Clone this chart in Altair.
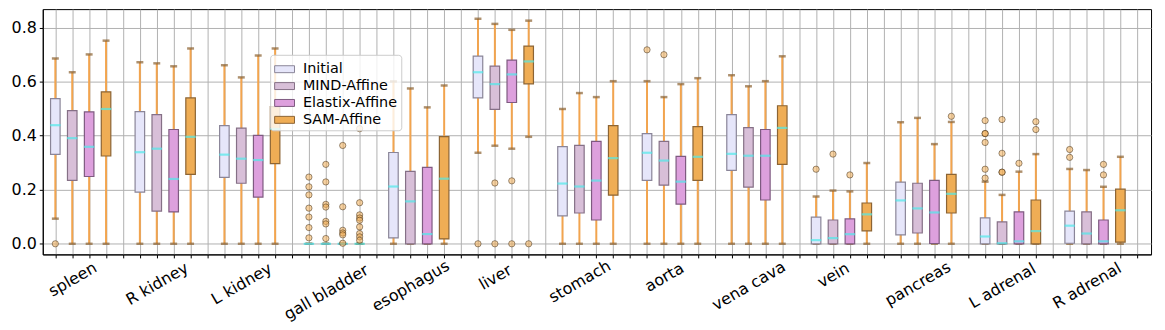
import altair as alt
import pandas as pd

groups = ["spleen", "R kidney", "L kidney", "gall bladder", "esophagus", "liver",
          "stomach", "aorta", "vena cava", "vein", "pancreas", "L adrenal", "R adrenal"]
methods = ["Initial", "MIND-Affine", "Elastix-Affine", "SAM-Affine"]
fills = ["#E6E6FA", "#D8BFD8", "#DDA0DD", "#EFAD55"]
edges = ["#8A8598", "#857086", "#7E5A80", "#8C6434"]

# whisker low, Q1, median, Q3, whisker high  (per organ)
initial_lo = [0.093, 0.0, 0.0, 0.0, 0.0, 0.337, 0.0, 0.0, 0.0, 0.0, 0.0, 0.0, 0.0]
initial_q1 = [0.331, 0.191, 0.246, 0.0, 0.022, 0.540, 0.103, 0.235, 0.272, 0.0, 0.033, 0.0, 0.002]
initial_med = [0.439, 0.339, 0.330, 0.0, 0.212, 0.635, 0.223, 0.337, 0.333, 0.0135, 0.1605, 0.027, 0.067]
initial_q3 = [0.537, 0.489, 0.4375, 0.0, 0.338, 0.695, 0.360, 0.408, 0.478, 0.099, 0.228, 0.0956, 0.121]
initial_hi = [0.686, 0.672, 0.661, 0.0, 0.601, 0.833, 0.499, 0.602, 0.624, 0.175, 0.450, 0.230, 0.277]

mind_lo = [0.0, 0.0, 0.0, 0.0, 0.0, 0.363, 0.0, 0.0, 0.0, 0.0, 0.0, 0.0, 0.0]
mind_q1 = [0.235, 0.121, 0.224, 0.0, 0.0, 0.4975, 0.114, 0.217, 0.2095, 0.0, 0.040, 0.0, 0.0]
mind_med = [0.391, 0.352, 0.315, 0.0, 0.157, 0.591, 0.212, 0.308, 0.326, 0.021, 0.131, 0.002, 0.038]
mind_q3 = [0.493, 0.478, 0.428, 0.0, 0.268, 0.658, 0.364, 0.379, 0.430, 0.088, 0.224, 0.081, 0.118]
mind_hi = [0.635, 0.668, 0.616, 0.0, 0.575, 0.814, 0.558, 0.543, 0.583, 0.197, 0.466, 0.181, 0.273]

elastix_lo = [0.0, 0.0, 0.0, 0.0, 0.0, 0.352, 0.0, 0.0, 0.0, 0.0, 0.0, 0.0, 0.0]
elastix_q1 = [0.249, 0.118, 0.173, 0.0, 0.0, 0.523, 0.088, 0.147, 0.162, 0.0, 0.001, 0.0, 0.0]
elastix_med = [0.359, 0.240, 0.310, 0.0, 0.036, 0.627, 0.234, 0.230, 0.326, 0.0355, 0.116, 0.009, 0.009]
elastix_q3 = [0.488, 0.423, 0.401, 0.0, 0.283, 0.680, 0.379, 0.3235, 0.423, 0.092, 0.235, 0.118, 0.088]
elastix_hi = [0.701, 0.657, 0.697, 0.0, 0.505, 0.792, 0.543, 0.591, 0.602, 0.194, 0.369, 0.267, 0.211]

sam_lo = [0.0, 0.0, 0.0, 0.0, 0.0, 0.396, 0.0, 0.0, 0.0, 0.0, 0.0, 0.0, 0.0]
sam_q1 = [0.325, 0.257, 0.297, 0.0, 0.018, 0.592, 0.180, 0.235, 0.294, 0.048, 0.114, 0.0, 0.006]
sam_med = [0.499, 0.396, 0.425, 0.0, 0.241, 0.675, 0.317, 0.322, 0.429, 0.109, 0.185, 0.047, 0.124]
sam_q3 = [0.5625, 0.540, 0.508, 0.0, 0.397, 0.732, 0.4375, 0.434, 0.511, 0.151, 0.257, 0.162, 0.202]
sam_hi = [0.752, 0.723, 0.723, 0.0, 0.586, 0.826, 0.602, 0.613, 0.694, 0.299, 0.451, 0.332, 0.322]

# outliers (fliers) per organ
initial_out = {"spleen": [0.0],
               "gall bladder": [0.247, 0.211, 0.181, 0.132, 0.099, 0.060, 0.022],
               "liver": [0.0], "aorta": [0.718], "vein": [0.276],
               "L adrenal": [0.456, 0.408, 0.408, 0.375, 0.276, 0.243],
               "R adrenal": [0.349, 0.320]}
mind_out = {"gall bladder": [0.294, 0.229, 0.146, 0.136, 0.083, 0.0735, 0.0195],
            "liver": [0.225, 0.0], "aorta": [0.700], "vein": [0.332],
            "L adrenal": [0.460, 0.335, 0.265, 0.265]}
elastix_out = {"gall bladder": [0.364, 0.137, 0.050, 0.040, 0.033, 0.002],
               "liver": [0.233, 0.0], "vein": [0.255], "L adrenal": [0.298],
               "R adrenal": [0.294, 0.255]}
sam_out = {"gall bladder": [0.426, 0.152, 0.107, 0.0955, 0.087, 0.0625, 0.038, 0.0257, 0.013],
           "liver": [0.0], "pancreas": [0.472], "L adrenal": [0.452, 0.423]}

stats = [
    (initial_lo, initial_q1, initial_med, initial_q3, initial_hi, initial_out),
    (mind_lo, mind_q1, mind_med, mind_q3, mind_hi, mind_out),
    (elastix_lo, elastix_q1, elastix_med, elastix_q3, elastix_hi, elastix_out),
    (sam_lo, sam_q1, sam_med, sam_q3, sam_hi, sam_out),
]

rows, fl = [], []
for mi, m in enumerate(methods):
    lo, q1, med, q3, hi, out = stats[mi]
    for gi, g in enumerate(groups):
        pos = 5 * gi + mi + 1
        rows.append(dict(method=m, pos=pos, lo=lo[gi], q1=q1[gi], med=med[gi],
                         q3=q3[gi], hi=hi[gi]))
        for v in out.get(g, []):
            fl.append(dict(method=m, pos=pos, v=v))
box_df = pd.DataFrame(rows)
fl_df = pd.DataFrame(fl)

# x axis labels at the second box of each group
label_expr = "''"
pad_expr = "0"
for gi, g in enumerate(groups[::-1]):
    idx = len(groups) - 1 - gi
    p = 5 * idx + 2
    label_expr = f"datum.value == {p} ? '{g}' : ({label_expr})"
    pad = round(8.5 + 8.6 * len(g) / 4, 1)
    pad_expr = f"datum.value == {p} ? {pad} : ({pad_expr})"

xscale = alt.Scale(domain=[0.55, 65.52], nice=False, zero=False)
yscale = alt.Scale(domain=[-0.0393, 0.8687], nice=False, zero=False)

xaxis = alt.Axis(values=list(range(1, 66)), tickCount=200, labelExpr=label_expr, labelAngle=-30,
                 labelAlign="center", labelBaseline="middle",
                 labelPadding=alt.ExprRef(expr=pad_expr), labelOverlap=False,
                 labelFlush=False, title=None, grid=True, tickSize=3.5)
yaxis = alt.Axis(values=[0, 0.2, 0.4, 0.6, 0.8], format=".1f", title=None, grid=True,
                 tickSize=3.5, labelPadding=3)

X = alt.X("pos:Q", scale=xscale, axis=xaxis)
Xn = alt.X("pos:Q", scale=xscale)

base = alt.Chart(box_df)

whisk = base.mark_rule(color="#F2A44E", strokeWidth=2).encode(
    x=X, y=alt.Y("lo:Q", scale=yscale, axis=yaxis), y2="hi:Q")

caps_lo = base.mark_tick(color="#8C6232", orient="horizontal", size=7, thickness=2.5).encode(
    x=Xn, y=alt.Y("lo:Q", scale=yscale))
caps_hi = base.mark_tick(color="#8C6232", orient="horizontal", size=7, thickness=2.5).encode(
    x=Xn, y=alt.Y("hi:Q", scale=yscale))

boxes = base.mark_bar(size=9.6, orient="vertical", strokeWidth=1.2).encode(
    x=Xn, y=alt.Y("q1:Q", scale=yscale), y2="q3:Q",
    fill=alt.Fill("method:N", scale=alt.Scale(domain=methods, range=fills),
                  legend=alt.Legend(title=None, orient="none", legendX=229, legendY=46,
                                    symbolType="M-1,-0.35H1V0.35H-1Z", symbolSize=400,
                                    symbolStrokeColor="black", symbolStrokeWidth=1,
                                    symbolOpacity=1, labelFontSize=14.5,
                                    labelFont="DejaVu Sans", labelColor="black",
                                    labelOffset=8, rowPadding=-1, padding=4,
                                    fillColor="rgba(255,255,255,0.8)",
                                    strokeColor="#cccccc", cornerRadius=3)),
    stroke=alt.Stroke("method:N", scale=alt.Scale(domain=methods, range=edges), legend=None),
)

medians = base.mark_tick(color="#4EEAEA", orient="horizontal", size=10.5, thickness=2.2).encode(
    x=Xn, y=alt.Y("med:Q", scale=yscale))

fliers = alt.Chart(fl_df).mark_point(shape="circle", filled=True, size=40, fill="#F0AD55",
                                     fillOpacity=0.55, stroke="#3d2a14", strokeOpacity=0.5,
                                     strokeWidth=1).encode(
    x=Xn, y=alt.Y("v:Q", scale=yscale))

chart = alt.layer(whisk, caps_lo, caps_hi, boxes, medians, fliers).properties(
    width=1116, height=247,
    padding={"left": 35, "top": 0, "right": 6, "bottom": 75},
    autosize=alt.AutoSizeParams(type="none"),
).configure_axis(
    labelFont="DejaVu Sans", labelFontSize=16, labelColor="black",
    domainColor="black", domainWidth=1, tickColor="black", tickWidth=1,
    gridColor="#b0b0b0", gridWidth=1,
).configure_view(stroke="black", strokeWidth=1)

chart.save("out.html", embed_options={"renderer": "svg", "actions": False})
